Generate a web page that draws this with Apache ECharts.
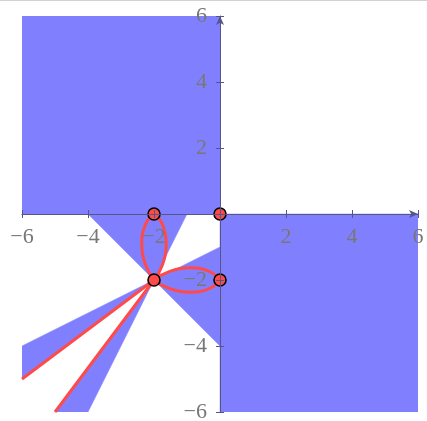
<!DOCTYPE html>
<html>
<head>
<meta charset="utf-8">
<script src="https://cdn.jsdelivr.net/npm/echarts@6/dist/echarts.min.js"></script>
<style>
  html, body { margin: 0; padding: 0; background: #ffffff; }
  #chart { width: 427px; height: 421px; }
</style>
</head>
<body>
<div id="chart"></div>
<script>
// Axis ticks (both axes share the same range)
const tickValues = [-6, -4, -2, 0, 2, 4, 6];

// Shaded regions, each a polygon of [x, y] vertices
const quadrantII = [[-6, 0], [0, 0], [0, 6], [-6, 6]];
const quadrantIV = [[0, 0], [6, 0], [6, -6], [0, -6]];
const wedgeUp = [[-2, -2], [-4, 0], [-1, 0]];
const wedgeRight = [[-2, -2], [0, -1], [0, -4]];
const wedgeLeft = [[-2, -2], [-6, -4], [-6, -5]];
const wedgeDown = [[-2, -2], [-5, -6], [-4, -6]];
const shadedRegions = [quadrantII, quadrantIV, wedgeUp, wedgeRight, wedgeLeft, wedgeDown];

// Upper petal, from (-2,0) down to (-2,-2): right and left edges
const petalUpRight = [[-2, 0], [-1.88, -0.1], [-1.75, -0.3], [-1.66, -0.6], [-1.63, -0.9], [-1.65, -1.2], [-1.73, -1.5], [-1.84, -1.75], [-1.92, -1.9], [-2, -2]];
const petalUpLeft = [[-2, 0], [-2.12, -0.1], [-2.25, -0.3], [-2.35, -0.6], [-2.37, -0.9], [-2.35, -1.2], [-2.27, -1.5], [-2.16, -1.75], [-2.08, -1.9], [-2, -2]];
// Right petal, from (0,-2) back to (-2,-2): upper and lower edges
const petalRightTop = [[0, -2], [-0.1, -1.88], [-0.3, -1.75], [-0.6, -1.65], [-0.9, -1.63], [-1.2, -1.65], [-1.5, -1.73], [-1.75, -1.84], [-1.9, -1.92], [-2, -2]];
const petalRightBottom = [[0, -2], [-0.1, -2.12], [-0.3, -2.25], [-0.6, -2.35], [-0.9, -2.37], [-1.2, -2.35], [-1.5, -2.27], [-1.75, -2.16], [-1.9, -2.08], [-2, -2]];
// Straight branches through (-2,-2)
const branchShallow = [[-2, -2], [-6, -5]];
const branchSteep = [[-2, -2], [-5, -6]];

// Marked points
const markedPoints = [[-2, 0], [0, 0], [-2, -2], [0, -2]];

const BLUE = '#8080ff';
const RED = '#ff4a4a';
const AXIS = '#55558a';
const LABEL = '#777777';
const FONT = '"Liberation Serif", "DejaVu Serif", serif';

const W = 427, H = 421;
const GRID = { left: 22, right: 9, top: 16, bottom: 9 };
// Axes cross in the middle of the plot: shift them in from the grid edges
const midX = (W - GRID.left - GRID.right) / 2;
const midY = (H - GRID.top - GRID.bottom) / 2;

const fmt = v => (v === 0 ? '' : (v < 0 ? '\u2212' + Math.abs(v) : String(v)));

function mainAxis(extra, labelMargin) {
  return Object.assign({
    type: 'value',
    min: tickValues[0],
    max: tickValues[tickValues.length - 1],
    interval: 2,
    z: 5,
    splitLine: { show: false },
    axisLine: {
      show: true, onZero: false,
      lineStyle: { color: AXIS, width: 1 },
      symbol: ['none', 'arrow'], symbolSize: [6, 9]
    },
    axisTick: { show: true, length: 4, lineStyle: { color: AXIS, width: 1 } },
    axisLabel: {
      show: true, formatter: fmt, color: LABEL,
      fontFamily: FONT, fontSize: 22, margin: labelMargin, showMinLabel: true, showMaxLabel: true,
      hideOverlap: false
    }
  }, extra);
}

// Companion axes only carry the tick marks on the opposite side of each axis line
function tickAxis(extra) {
  return Object.assign({
    type: 'value',
    min: tickValues[0],
    max: tickValues[tickValues.length - 1],
    interval: 2,
    z: 5,
    splitLine: { show: false },
    axisLine: { show: false, onZero: false },
    axisTick: { show: true, length: 4, lineStyle: { color: AXIS, width: 1 } },
    axisLabel: { show: false }
  }, extra);
}

function curve(points) {
  return {
    type: 'line', data: points, smooth: 0.35, showSymbol: false, symbol: 'none',
    lineStyle: { color: RED, width: 3 }, z: 3, silent: true, clip: true
  };
}

const chart = echarts.init(document.getElementById('chart'), null, { renderer: 'canvas' });

chart.setOption({
  animation: false,
  backgroundColor: '#ffffff',
  grid: Object.assign({ containLabel: false, outerBoundsMode: 'none' }, GRID),
  xAxis: [
    mainAxis({ position: 'bottom', offset: -midY }, 12),
    tickAxis({ position: 'top', offset: -midY })
  ],
  yAxis: [
    mainAxis({ position: 'left', offset: -midX }, 13),
    tickAxis({ position: 'right', offset: -midX })
  ],
  graphic: [{
    type: 'line', shape: { x1: 0, y1: 0.5, x2: W, y2: 0.5 },
    style: { stroke: '#d2d2d2', lineWidth: 1 }, z: 10
  }],
  series: [
    {
      type: 'custom',
      coordinateSystem: 'cartesian2d',
      data: shadedRegions.map((poly, i) => [poly[0][0], poly[0][1], i]),
      renderItem: function (params, api) {
        const poly = shadedRegions[params.dataIndex];
        return {
          type: 'polygon',
          shape: { points: poly.map(p => api.coord(p)) },
          style: { fill: BLUE, stroke: BLUE, lineWidth: 0.5 }
        };
      },
      z: 1, silent: true, clip: true
    },
    curve(petalUpRight),
    curve(petalUpLeft),
    curve(petalRightTop),
    curve(petalRightBottom),
    curve(branchShallow),
    curve(branchSteep),
    {
      type: 'scatter', data: markedPoints, symbol: 'circle', symbolSize: 12,
      itemStyle: { color: RED, opacity: 1, borderColor: '#000000', borderWidth: 1.6 },
      z: 4, silent: true
    }
  ]
});
</script>
</body>
</html>
